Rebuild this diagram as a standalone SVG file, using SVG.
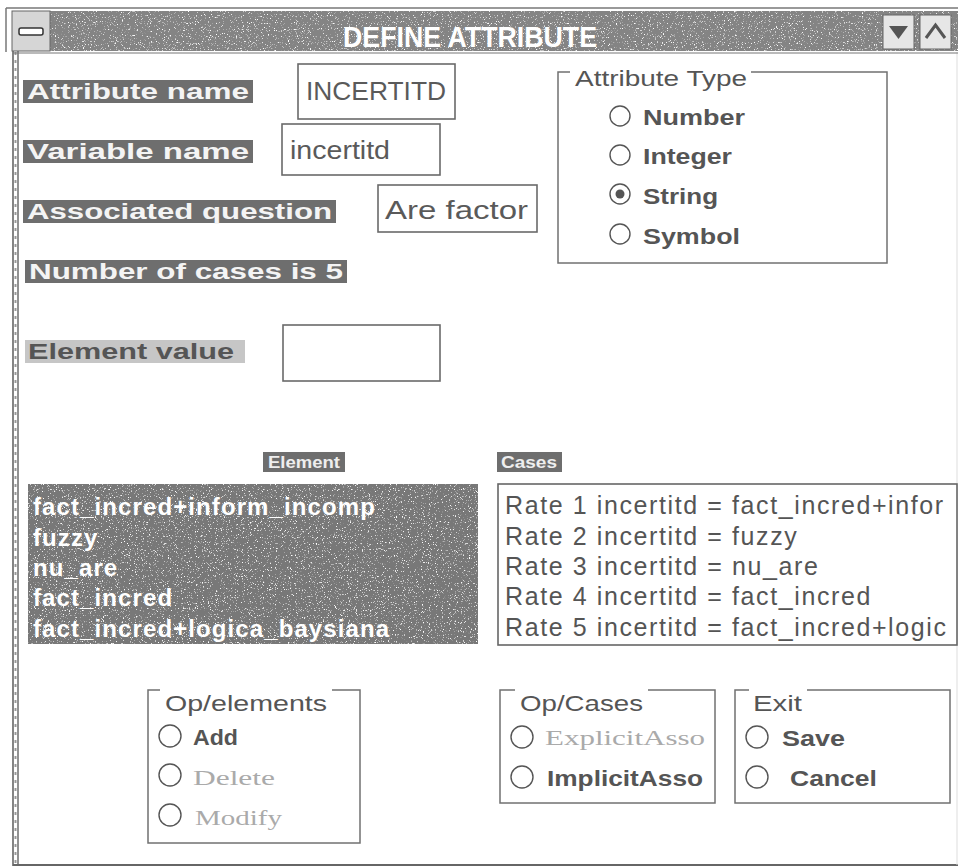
<svg xmlns="http://www.w3.org/2000/svg" width="960" height="867" viewBox="0 0 960 867">
  <style>
    .frame { fill: none; stroke: #666; stroke-width: 1.5; }
    .label-bg { fill: #6e6e6e; }
    .label { font-family: "Liberation Sans", Arial, sans-serif; font-weight: bold; font-size: 22px; fill: #f4f4f4; }
    .field { fill: #fff; stroke: #6a6a6a; stroke-width: 1.6; }
    .field-text { font-family: "Liberation Sans", Arial, sans-serif; font-size: 25px; fill: #5a5a5a; }
    .group { fill: none; stroke: #707070; stroke-width: 1.5; }
    .legend { font-family: "Liberation Sans", Arial, sans-serif; font-size: 22px; fill: #555; }
    .opt { font-family: "Liberation Sans", Arial, sans-serif; font-weight: bold; font-size: 22px; fill: #555; }
    .opt-off { font-family: "Liberation Serif", serif; font-size: 22px; fill: #aaa; }
    .radio { fill: #fff; stroke: #555; stroke-width: 1.4; }
    .list-dark { font-family: "Liberation Sans", Arial, sans-serif; font-weight: bold; font-size: 24px; letter-spacing: 1.1px; fill: #fff; }
    .list-light { font-family: "Liberation Sans", Arial, sans-serif; font-size: 25px; letter-spacing: 1.6px; fill: #555; }
  </style>
  <defs>
    <filter id="speckle" x="0" y="0" width="100%" height="100%">
      <feTurbulence type="fractalNoise" baseFrequency="0.85" numOctaves="2" seed="7" result="noise"/>
      <feColorMatrix in="noise" type="matrix" values="0 0 0 0 1  0 0 0 0 1  0 0 0 0 1  6 0 0 0 -3.7" result="dots"/>
      <feComposite in="dots" in2="SourceGraphic" operator="in" result="clipped"/>
      <feMerge>
        <feMergeNode in="SourceGraphic"/>
        <feMergeNode in="clipped"/>
      </feMerge>
    </filter>
    <clipPath id="casesClip">
      <rect x="499" y="485" width="458" height="159"/>
    </clipPath>
  </defs>

  <rect width="960" height="867" fill="#fff"/>

  <!-- window frame -->
  <g id="window-frame">
    <line x1="6" y1="8" x2="958" y2="8" stroke="#777" stroke-width="1.5"/>
    <line x1="6" y1="8" x2="6" y2="52" stroke="#777" stroke-width="1.5"/>
    <line x1="13" y1="50" x2="13" y2="866" stroke="#666" stroke-width="1.6"/>
    <line x1="18" y1="50" x2="18" y2="866" stroke="#777" stroke-width="1.6"/>
    <line x1="15.5" y1="52" x2="15.5" y2="866" stroke="#999" stroke-width="2" stroke-dasharray="3 5"/>
    <line x1="13" y1="865" x2="958" y2="865" stroke="#666" stroke-width="1.8"/>
    <line x1="957" y1="52" x2="957" y2="865" stroke="#ddd" stroke-width="1"/>
    <line x1="13" y1="53" x2="958" y2="53" stroke="#777" stroke-width="1.2"/>
  </g>

  <!-- title bar -->
  <g id="title-bar">
    <rect x="12" y="11" width="946" height="40" fill="#848484" filter="url(#speckle)"/>
    <g id="system-menu">
      <rect x="12" y="11" width="38" height="40" fill="#d6d6d6" stroke="#666" stroke-width="1"/>
      <rect x="19" y="28" width="24" height="7" rx="2" fill="#fff" stroke="#333" stroke-width="1.5"/>
    </g>
    <text x="343" y="47" font-family="Liberation Sans, Arial, sans-serif" font-weight="bold" font-size="29" fill="#fff" textLength="254" lengthAdjust="spacingAndGlyphs">DEFINE ATTRIBUTE</text>
    <g id="minimize-button">
      <rect x="883" y="15" width="31" height="34" fill="#e6e6e6" stroke="#666" stroke-width="1"/>
      <path d="M889 26 L908 26 L898.5 39 Z" fill="#555"/>
    </g>
    <g id="maximize-button">
      <rect x="920" y="15" width="31" height="34" fill="#e6e6e6" stroke="#666" stroke-width="1"/>
      <path d="M926 38 L935.5 25 L945 38" fill="none" stroke="#555" stroke-width="3"/>
    </g>
  </g>

  <!-- name / variable / question / cases labels -->
  <g id="attribute-name">
    <rect class="label-bg" x="23" y="80" width="230" height="23"/>
    <text class="label" x="27" y="99" textLength="222" lengthAdjust="spacingAndGlyphs">Attribute name</text>
    <rect class="field" x="298" y="64" width="157" height="55"/>
    <text class="field-text" x="306" y="100" textLength="140" lengthAdjust="spacingAndGlyphs">INCERTITD</text>
  </g>
  <g id="variable-name">
    <rect class="label-bg" x="23" y="140" width="230" height="23"/>
    <text class="label" x="27" y="159" textLength="222" lengthAdjust="spacingAndGlyphs">Variable name</text>
    <rect class="field" x="282" y="124" width="158" height="51"/>
    <text class="field-text" x="290" y="159" textLength="100" lengthAdjust="spacingAndGlyphs">incertitd</text>
  </g>
  <g id="associated-question">
    <rect class="label-bg" x="23" y="200" width="313" height="23"/>
    <text class="label" x="27" y="219" textLength="305" lengthAdjust="spacingAndGlyphs">Associated question</text>
    <rect class="field" x="378" y="185" width="159" height="47"/>
    <text class="field-text" x="385" y="219" textLength="143" lengthAdjust="spacingAndGlyphs">Are factor</text>
  </g>
  <g id="number-of-cases">
    <rect class="label-bg" x="25" y="260" width="322" height="23"/>
    <text class="label" x="29" y="279" textLength="314" lengthAdjust="spacingAndGlyphs">Number of cases is 5</text>
  </g>
  <g id="element-value">
    <rect x="25" y="340" width="220" height="23" fill="#c6c6c6"/>
    <text x="28" y="359" font-family="Liberation Sans, Arial, sans-serif" font-weight="bold" font-size="22" fill="#555" textLength="206" lengthAdjust="spacingAndGlyphs">Element value</text>
    <rect class="field" x="283" y="325" width="157" height="56"/>
  </g>

  <!-- attribute type option group -->
  <g id="attribute-type">
    <rect class="group" x="558" y="72" width="329" height="191"/>
    <rect x="570" y="62" width="181" height="20" fill="#fff"/>
    <text class="legend" x="575" y="86" textLength="172" lengthAdjust="spacingAndGlyphs">Attribute Type</text>
    <circle class="radio" cx="620" cy="116" r="10"/>
    <text class="opt" x="643" y="125" textLength="102" lengthAdjust="spacingAndGlyphs">Number</text>
    <circle class="radio" cx="620" cy="155" r="10"/>
    <text class="opt" x="643" y="164" textLength="89" lengthAdjust="spacingAndGlyphs">Integer</text>
    <circle class="radio" cx="620" cy="194" r="10"/>
    <circle cx="620" cy="194" r="4.5" fill="#555"/>
    <text class="opt" x="643" y="204" textLength="75" lengthAdjust="spacingAndGlyphs">String</text>
    <circle class="radio" cx="620" cy="234" r="10"/>
    <text class="opt" x="643" y="244" textLength="97" lengthAdjust="spacingAndGlyphs">Symbol</text>
  </g>

  <!-- element list -->
  <g id="element-list">
    <rect x="263" y="452" width="82" height="20" fill="#6e6e6e"/>
    <text x="268" y="468" font-family="Liberation Sans, Arial, sans-serif" font-weight="bold" font-size="17" fill="#eee" textLength="72" lengthAdjust="spacingAndGlyphs">Element</text>
    <rect x="28" y="484" width="450" height="160" fill="#787878" filter="url(#speckle)"/>
    <text class="list-dark" x="33" y="515">fact_incred+inform_incomp</text>
    <text class="list-dark" x="33" y="546">fuzzy</text>
    <text class="list-dark" x="33" y="576">nu_are</text>
    <text class="list-dark" x="33" y="606">fact_incred</text>
    <text class="list-dark" x="33" y="637">fact_incred+logica_baysiana</text>
  </g>

  <!-- cases list -->
  <g id="cases-list">
    <rect x="497" y="452" width="65" height="20" fill="#6e6e6e"/>
    <text x="501" y="468" font-family="Liberation Sans, Arial, sans-serif" font-weight="bold" font-size="17" fill="#eee" textLength="56" lengthAdjust="spacingAndGlyphs">Cases</text>
    <rect x="498" y="484" width="459" height="161" fill="#fff" stroke="#666" stroke-width="1.6"/>
    <g clip-path="url(#casesClip)">
      <text class="list-light" x="505" y="514">Rate 1 incertitd = fact_incred+infor</text>
      <text class="list-light" x="505" y="545">Rate 2 incertitd = fuzzy</text>
      <text class="list-light" x="505" y="575">Rate 3 incertitd = nu_are</text>
      <text class="list-light" x="505" y="605">Rate 4 incertitd = fact_incred</text>
      <text class="list-light" x="505" y="636">Rate 5 incertitd = fact_incred+logic</text>
    </g>
  </g>

  <!-- element operations -->
  <g id="op-elements">
    <rect class="group" x="148" y="690" width="212" height="153"/>
    <rect x="160" y="680" width="172" height="20" fill="#fff"/>
    <text class="legend" x="165" y="711" textLength="162" lengthAdjust="spacingAndGlyphs">Op/elements</text>
    <circle class="radio" cx="170" cy="736" r="11"/>
    <text class="opt" x="193" y="745" textLength="45" lengthAdjust="spacingAndGlyphs">Add</text>
    <circle class="radio" cx="170" cy="775" r="11"/>
    <text class="opt-off" x="193" y="785" textLength="82" lengthAdjust="spacingAndGlyphs">Delete</text>
    <circle class="radio" cx="170" cy="815" r="11"/>
    <text class="opt-off" x="195" y="825" textLength="87" lengthAdjust="spacingAndGlyphs">Modify</text>
  </g>

  <!-- case operations -->
  <g id="op-cases">
    <rect class="group" x="500" y="690" width="215" height="113"/>
    <rect x="515" y="680" width="133" height="20" fill="#fff"/>
    <text class="legend" x="520" y="711" textLength="123" lengthAdjust="spacingAndGlyphs">Op/Cases</text>
    <circle class="radio" cx="522" cy="737" r="11"/>
    <text class="opt-off" x="545" y="745" textLength="160" lengthAdjust="spacingAndGlyphs">ExplicitAsso</text>
    <circle class="radio" cx="522" cy="777" r="11"/>
    <text class="opt" x="547" y="786" textLength="156" lengthAdjust="spacingAndGlyphs">ImplicitAsso</text>
  </g>

  <!-- exit options -->
  <g id="exit">
    <rect class="group" x="735" y="690" width="215" height="113"/>
    <rect x="749" y="680" width="58" height="20" fill="#fff"/>
    <text class="legend" x="753" y="711" textLength="49" lengthAdjust="spacingAndGlyphs">Exit</text>
    <circle class="radio" cx="757" cy="737" r="11"/>
    <text class="opt" x="782" y="746" textLength="63" lengthAdjust="spacingAndGlyphs">Save</text>
    <circle class="radio" cx="757" cy="777" r="11"/>
    <text class="opt" x="790" y="786" textLength="87" lengthAdjust="spacingAndGlyphs">Cancel</text>
  </g>
</svg>
